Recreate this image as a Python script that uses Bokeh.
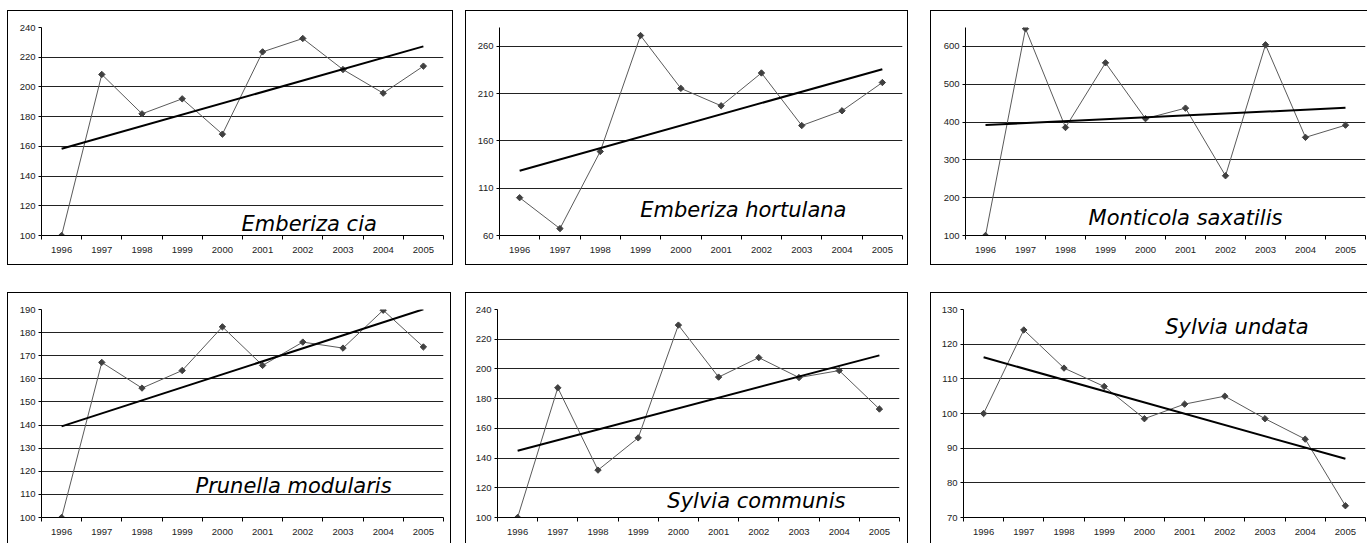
import numpy as np
from bokeh.plotting import figure
from bokeh.layouts import column, row
from bokeh.models import Spacer, FixedTicker, Label, Range1d
from bokeh.embed import file_html
from bokeh.resources import INLINE

# ---------------- data ----------------
years = ["1996", "1997", "1998", "1999", "2000", "2001", "2002", "2003", "2004", "2005"]

emberiza_cia = [100, 208.4, 181.9, 192.0, 168.2, 223.6, 232.6, 211.7, 195.8, 214.0]
emberiza_hortulana = [100, 67.3, 148.9, 271.5, 215.6, 197.2, 231.9, 176.3, 191.9, 221.8]
monticola_saxatilis = [100, 646.9, 385.6, 556.6, 409.0, 436.8, 258.0, 604.3, 359.5, 391.7]
prunella_modularis = [100, 167.1, 156.0, 163.6, 182.5, 165.8, 175.9, 173.3, 189.7, 173.8]
sylvia_communis = [100, 187.3, 131.9, 153.6, 229.5, 194.5, 207.6, 194.2, 198.9, 173.0]
sylvia_undata = [100, 124.1, 113.1, 107.8, 98.5, 102.7, 105.0, 98.5, 92.6, 73.4]

species = ["Emberiza cia", "Emberiza hortulana", "Monticola saxatilis",
           "Prunella modularis", "Sylvia communis", "Sylvia undata"]

ticks_cia = [100, 120, 140, 160, 180, 200, 220, 240]
ticks_hortulana = [60, 110, 160, 210, 260]
ticks_saxatilis = [100, 200, 300, 400, 500, 600]
ticks_modularis = [100, 110, 120, 130, 140, 150, 160, 170, 180, 190]
ticks_communis = [100, 120, 140, 160, 180, 200, 220, 240]
ticks_undata = [70, 80, 90, 100, 110, 120, 130]


def make_panel(values, name, y_start, y_end, y_ticks, w, h, mbl, mbr, mbt, mbb,
               lab_x, lab_y, border):
    x = list(range(len(years)))
    p = figure(width=w, height=h, output_backend="svg", toolbar_location=None,
               x_range=Range1d(-0.5, len(years) - 0.5),
               y_range=Range1d(y_start, y_end),
               min_border_left=mbl, min_border_right=mbr,
               min_border_top=mbt, min_border_bottom=mbb)
    p.styles = border
    p.outline_line_color = None
    p.background_fill_color = "white"
    p.border_fill_color = "white"

    # x axis: labels at category centres, ticks at the category boundaries
    p.xaxis.ticker = FixedTicker(ticks=x,
                                 minor_ticks=[i - 0.5 for i in range(len(years) + 1)])
    p.xaxis.major_label_overrides = {i: y for i, y in enumerate(years)}
    p.xaxis.major_tick_out = 0
    p.xaxis.major_tick_in = 0
    p.xaxis.minor_tick_out = 4
    p.xaxis.minor_tick_in = 0
    p.xaxis.major_label_standoff = 7
    p.xaxis.axis_line_color = "black"
    p.xaxis.minor_tick_line_color = "black"

    p.yaxis.ticker = FixedTicker(ticks=y_ticks)
    p.yaxis.major_tick_out = 3
    p.yaxis.major_tick_in = 0
    p.yaxis.minor_tick_line_color = None
    p.yaxis.major_label_standoff = 3
    p.yaxis.axis_line_color = "black"
    p.yaxis.major_tick_line_color = "black"

    for ax in (p.xaxis, p.yaxis):
        ax.major_label_text_font = "Liberation Sans"
        ax.major_label_text_font_size = "9.5px"
        ax.major_label_text_color = "#222222"

    p.xgrid.visible = False
    p.ygrid.ticker = FixedTicker(ticks=y_ticks)
    p.ygrid.grid_line_color = "#222222"
    p.ygrid.grid_line_width = 1

    # data series
    p.line(x, values, line_color="#5a5a5a", line_width=1)
    p.scatter(x, values, marker="square", angle=np.pi / 4, size=4.5,
              fill_color="#404040", line_color="#404040")

    # linear trend
    k, b = np.polyfit(x, values, 1)
    xt = [x[0], x[-1]]
    p.line(xt, [k * xi + b for xi in xt], line_color="black", line_width=2)

    p.add_layout(Label(x=lab_x, y=lab_y, text=name, text_align="center",
                       text_baseline="alphabetic", text_font="DejaVu Sans",
                       text_font_style="italic", text_font_size="21px",
                       text_color="black"))
    return p


B = "1px solid black"
full = {"border": B}
top_open_right = {"border-top": B, "border-left": B, "border-bottom": B}
bottom_row = {"border-top": B, "border-left": B, "border-right": B}
bottom_open_right = {"border-top": B, "border-left": B}

p1 = make_panel(emberiza_cia, species[0], 100, 240, ticks_cia,
                446, 255, 33, 11, 16, 31, 6.16, 107.9, full)
p2 = make_panel(emberiza_hortulana, species[1], 60, 280, ticks_hortulana,
                443, 255, 33, 7, 16, 28, 5.55, 86.5, full)
p3 = make_panel(monticola_saxatilis, species[2], 100, 650, ticks_saxatilis,
                437, 255, 34, 3, 15, 29, 5.0, 145, top_open_right)
p4 = make_panel(prunella_modularis, species[3], 100, 190, ticks_modularis,
                444, 251, 33, 9, 16, 27, 5.77, 113.7, bottom_row)
p5 = make_panel(sylvia_communis, species[4], 100, 240, ticks_communis,
                443, 251, 31, 10, 16, 26, 5.94, 110.8, bottom_row)
p6 = make_panel(sylvia_undata, species[5], 70, 130, ticks_undata,
                437, 251, 32, 3, 16, 26, 6.3, 124.9, bottom_open_right)

top = row(Spacer(width=7), p1, Spacer(width=12), p2, Spacer(width=22), p3)
bottom = row(Spacer(width=7), p4, Spacer(width=14), p5, Spacer(width=22), p6)
layout = column(Spacer(height=10), top, Spacer(height=27), bottom)

open("out.html", "w").write(file_html(layout, INLINE))
